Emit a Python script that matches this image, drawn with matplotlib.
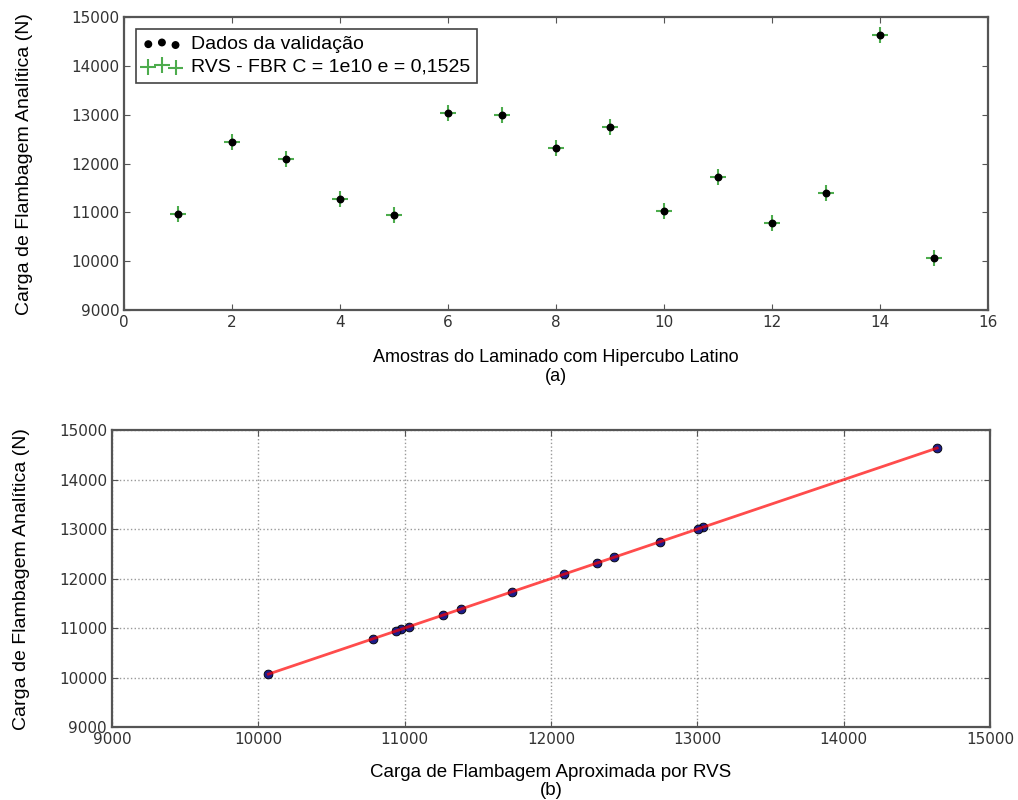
import numpy as np
import matplotlib
matplotlib.use('Agg')
import matplotlib.pyplot as plt

# Dados
amostras = [1, 2, 3, 4, 5, 6, 7, 8, 9, 10, 11, 12, 13, 14, 15]
carga_analitica = [10976, 12433, 12089, 11265, 10942, 13038, 13003, 12316,
                   12742, 11031, 11732, 10784, 11388, 14639, 10069]
carga_rvs = [10976, 12433, 12089, 11265, 10942, 13038, 13003, 12316,
             12742, 11031, 11732, 10784, 11388, 14639, 10069]

ticks_carga = [9000, 10000, 11000, 12000, 13000, 14000, 15000]
ticks_amostras = [0, 2, 4, 6, 8, 10, 12, 14, 16]

fonte_texto = 'Liberation Sans'
cor_eixo = '#555555'
cor_ticks = '#333333'


def estilo(ax):
    for s in ax.spines.values():
        s.set_color(cor_eixo)
        s.set_linewidth(1.6)
    ax.tick_params(direction='in', top=True, right=True, length=4,
                   color=cor_eixo, labelsize=11, labelcolor=cor_ticks)


fig = plt.figure(figsize=(10.18, 8), dpi=100)

# (a) amostras
ax1 = fig.add_axes([0.1218, 0.6125, 0.8487, 0.366])
ax1.scatter(amostras, carga_analitica, s=22, c='k', zorder=3,
            label='Dados da validação')
ax1.scatter(amostras, carga_rvs, s=130, marker='+', c='#2e9e2e',
            linewidths=1.5, alpha=0.85, zorder=2,
            label='RVS - FBR C = 1e10 e = 0,1525')
ax1.set_xlim(0, 16)
ax1.set_ylim(9000, 15000)
ax1.set_xticks(ticks_amostras)
ax1.set_yticks(ticks_carga)
estilo(ax1)
ax1.set_ylabel('Carga de Flambagem Analítica (N)', fontsize=14,
               family=fonte_texto, labelpad=27)
ax1.set_xlabel('Amostras do Laminado com Hipercubo Latino\n(a)', fontsize=13,
               family=fonte_texto, labelpad=14, linespacing=1.15)
leg = ax1.legend(loc='upper left', scatterpoints=3,
                 scatteryoffsets=[0.375, 0.5, 0.3125],
                 prop={'family': fonte_texto, 'size': 14},
                 fancybox=False, framealpha=1, borderpad=0.35,
                 handletextpad=0.5, labelspacing=0.25, borderaxespad=0.6)
leg.get_frame().set_edgecolor('#444444')
leg.get_frame().set_linewidth(1.2)

# (b) comparação
ax2 = fig.add_axes([0.110, 0.09125, 0.8625, 0.371])
ax2.scatter(carga_rvs, carga_analitica, s=40, c='#1c1c8a',
            edgecolors='k', linewidths=0.6, zorder=2)
ordem = np.argsort(carga_rvs)
ax2.plot(np.array(carga_rvs)[ordem], np.array(carga_analitica)[ordem],
         color='red', alpha=0.7, linewidth=2, zorder=3)
ax2.set_xlim(9000, 15000)
ax2.set_ylim(9000, 15000)
ax2.set_xticks(ticks_carga)
ax2.set_yticks(ticks_carga)
ax2.grid(True, linestyle=':', color='#999999', linewidth=1)
estilo(ax2)
ax2.set_ylabel('Carga de Flambagem Analítica (N)', fontsize=14,
               family=fonte_texto, labelpad=21)
ax2.set_xlabel('Carga de Flambagem Aproximada por RVS\n(b)', fontsize=13.5,
               family=fonte_texto, labelpad=12, linespacing=1.1)

plt.savefig('out.png', dpi=100)
